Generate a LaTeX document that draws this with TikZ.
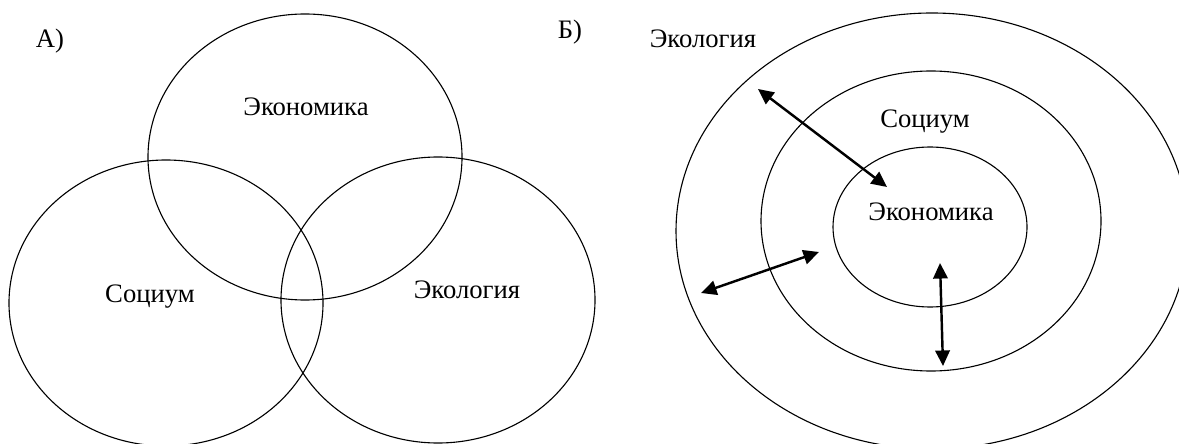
\documentclass[tikz,border=0pt]{standalone}
\usepackage{fontspec}
\setmainfont{Liberation Serif}
\usetikzlibrary{arrows.meta}
\tikzset{
  ring/.style={line width=0.5pt},
  label/.style={font=\fontsize{12}{14}\selectfont, inner sep=0pt},
  biarrow/.style={{Triangle[length=7pt,width=6.5pt]}-{Triangle[length=7pt,width=6.5pt]}, line width=1.1pt}
}
\begin{document}
\begin{tikzpicture}[x=0.45pt,y=-0.45pt]
\useasboundingbox (0,0) rectangle (1179,444);
\clip (0,0) rectangle (1179,444);
% A) overlapping circles
\draw[ring] (305,157) ellipse [x radius=157, y radius=143];
\draw[ring] (166,303) ellipse [x radius=157, y radius=143];
\draw[ring] (438,300) ellipse [x radius=157, y radius=143];
\node[label] (a) at (50,41) {А)};
\node[label] (ekonA) at (306,107) {Экономика};
\node[label] (socA) at (150,297) {Социум};
\node[label] (ekolA) at (467,290) {Экология};
% B) nested ellipses
\draw[ring] (932,231) ellipse [x radius=256, y radius=218];
\draw[ring] (931,221) ellipse [x radius=170, y radius=150];
\draw[ring] (930,227) ellipse [x radius=97, y radius=80];
\node[label] (b) at (570,32) {Б)};
\node[label] (ekolB) at (703,39) {Экология};
\node[label] (socB) at (925,122) {Социум};
\node[label] (ekonB) at (931,212) {Экономика};
\coordinate (p1) at (758,89);
\coordinate (q1) at (887,187);
\coordinate (p2) at (701,293);
\coordinate (q2) at (819,252);
\coordinate (p3) at (940,263);
\coordinate (q3) at (943,366);
\draw[biarrow] (p1) -- (q1);
\draw[biarrow] (p2) -- (q2);
\draw[biarrow] (p3) -- (q3);
\end{tikzpicture}
\end{document}
